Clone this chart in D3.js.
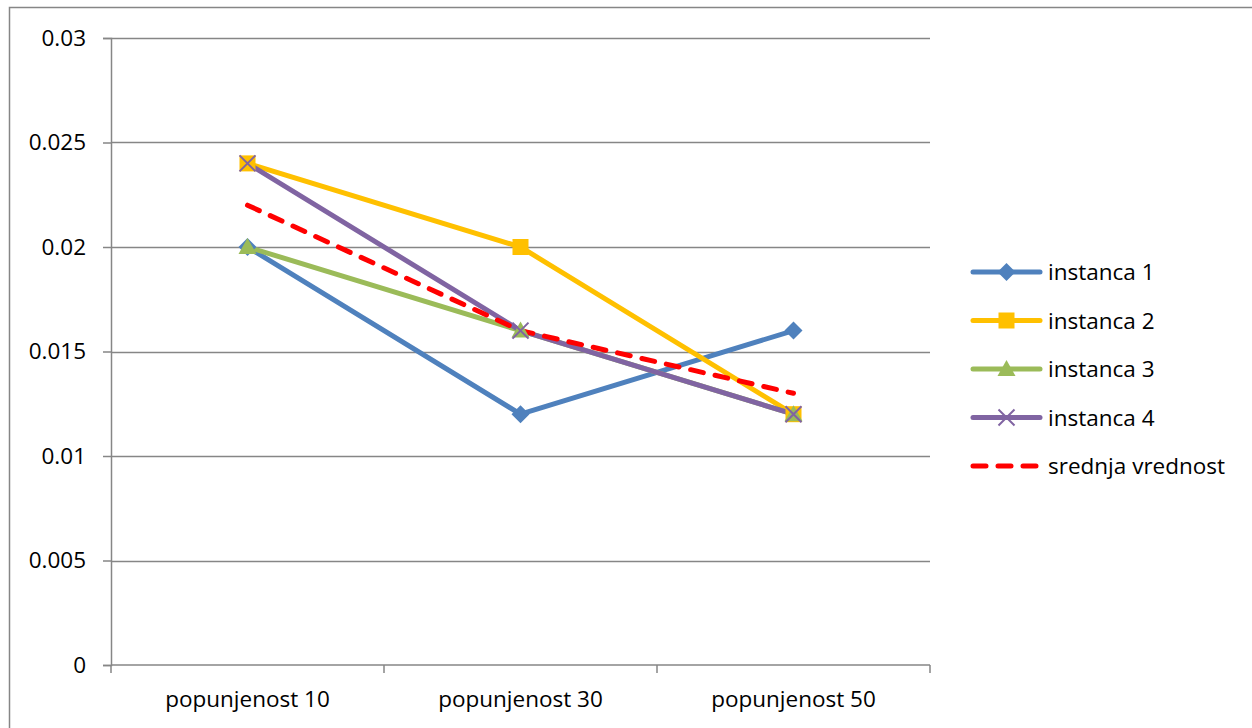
<!DOCTYPE html>
<html>
<head>
<meta charset="utf-8">
<script src="https://cdn.jsdelivr.net/npm/d3@7"></script>
<style>
  html, body { margin: 0; padding: 0; background: #fff; }
  svg { display: block; font-family: "Open Sans", "Noto Sans", sans-serif; }
</style>
</head>
<body>
<svg id="chart" width="1252" height="728"></svg>
<script>
// Categories and series values
const categories = ["popunjenost 10", "popunjenost 30", "popunjenost 50"];
const instanca1 = [0.020, 0.012, 0.016];
const instanca2 = [0.024, 0.020, 0.012];
const instanca3 = [0.020, 0.016, 0.012];
const instanca4 = [0.024, 0.016, 0.012];
const srednjaVrednost = [0.022, 0.016, 0.013];
const yTicks = [0, 0.005, 0.01, 0.015, 0.02, 0.025, 0.03];
const yTickLabels = ["0", "0.005", "0.01", "0.015", "0.02", "0.025", "0.03"];

const series = [
  { name: "instanca 1", values: instanca1, color: "#4F81BD", marker: "diamond" },
  { name: "instanca 2", values: instanca2, color: "#FFC000", marker: "square" },
  { name: "instanca 3", values: instanca3, color: "#9BBB59", marker: "triangle" },
  { name: "instanca 4", values: instanca4, color: "#8064A2", marker: "cross" },
  { name: "srednja vrednost", values: srednjaVrednost, color: "#FF0000", marker: "none", dashed: true }
];

const svg = d3.select("#chart");
const plot = { left: 111, right: 930, top: 38, bottom: 665 };
const axisColor = "#868686";
const fontSize = 22.5;

// Outer chart frame (extends beyond the visible window on right/bottom)
svg.append("rect")
  .attr("x", 9.5).attr("y", 7.5)
  .attr("width", 1300).attr("height", 800)
  .attr("fill", "none").attr("stroke", axisColor).attr("stroke-width", 1.5);

const x = d3.scaleBand().domain(categories).range([plot.left, plot.right]).paddingInner(0).paddingOuter(0);
const y = d3.scaleLinear().domain([0, 0.03]).range([plot.bottom, plot.top]);
const xc = c => x(c) + x.bandwidth() / 2;

// Horizontal gridlines
svg.append("g").selectAll("line")
  .data(yTicks.filter(t => t > 0))
  .join("line")
  .attr("x1", plot.left).attr("x2", plot.right)
  .attr("y1", d => Math.round(y(d)) + 0.5).attr("y2", d => Math.round(y(d)) + 0.5)
  .attr("stroke", axisColor).attr("stroke-width", 1.5);

// Y axis
const yAxis = d3.axisLeft(y).tickValues(yTicks)
  .tickFormat((d, i) => yTickLabels[i]).tickSize(8).tickPadding(17);
const gy = svg.append("g").attr("transform", `translate(${plot.left},0)`).call(yAxis);
gy.select(".domain").attr("stroke", axisColor).attr("stroke-width", 1.5);
gy.selectAll(".tick line").attr("stroke", axisColor).attr("stroke-width", 1.5);
gy.selectAll(".tick text").attr("font-size", fontSize).attr("fill", "#000")
  .attr("font-family", "'Open Sans', sans-serif");

// X axis with tick marks at category boundaries
const gx = svg.append("g").attr("transform", `translate(0,${plot.bottom})`);
gx.append("line").attr("x1", plot.left).attr("x2", plot.right)
  .attr("stroke", axisColor).attr("stroke-width", 1.5);
const bounds = categories.map(c => x(c)).concat([plot.right]);
gx.selectAll("line.tk").data(bounds).join("line").attr("class", "tk")
  .attr("x1", d => d).attr("x2", d => d).attr("y1", 0).attr("y2", 8)
  .attr("stroke", axisColor).attr("stroke-width", 1.5);
gx.selectAll("text").data(categories).join("text")
  .attr("x", d => xc(d)).attr("y", 42)
  .attr("text-anchor", "middle").attr("font-size", fontSize).attr("fill", "#000")
  .text(d => d);

// Lines
const line = d3.line().x((d, i) => xc(categories[i])).y(d => y(d));
series.forEach(s => {
  svg.append("path").datum(s.values)
    .attr("d", line)
    .attr("fill", "none")
    .attr("stroke", s.color)
    .attr("stroke-width", 5)
    .attr("stroke-linejoin", "round")
    .attr("stroke-linecap", "round")
    .attr("stroke-dasharray", s.dashed ? "13,12" : null);
});

// Markers
function drawMarker(g, type, cx, cy, color, size) {
  const h = size / 2;
  if (type === "diamond") {
    g.append("path").attr("d", `M${cx},${cy - h}L${cx + h},${cy}L${cx},${cy + h}L${cx - h},${cy}Z`)
      .attr("fill", color);
  } else if (type === "square") {
    g.append("rect").attr("x", cx - h + 1).attr("y", cy - h + 1)
      .attr("width", size - 2).attr("height", size - 2).attr("fill", color);
  } else if (type === "triangle") {
    g.append("path").attr("d", `M${cx},${cy - h}L${cx + h},${cy + h - 2}L${cx - h},${cy + h - 2}Z`)
      .attr("fill", color);
  } else if (type === "cross") {
    const k = h - 1;
    g.append("path").attr("d", `M${cx - k},${cy - k}L${cx + k},${cy + k}M${cx + k},${cy - k}L${cx - k},${cy + k}`)
      .attr("stroke", color).attr("stroke-width", 2).attr("fill", "none");
  }
}
const markersG = svg.append("g");
series.forEach(s => {
  if (s.marker === "none") return;
  s.values.forEach((v, i) => drawMarker(markersG, s.marker, xc(categories[i]), y(v), s.color, 18));
});

// Legend
const legend = svg.append("g");
const legendTop = 272, legendStep = 48.5;
series.forEach((s, i) => {
  const ly = legendTop + i * legendStep;
  legend.append("line")
    .attr("x1", 973).attr("x2", 1040).attr("y1", ly).attr("y2", ly)
    .attr("stroke", s.color).attr("stroke-width", 5)
    .attr("stroke-linecap", "round")
    .attr("stroke-dasharray", s.dashed ? "13,12" : null);
  if (s.marker !== "none") drawMarker(legend, s.marker, 1006.5, ly, s.color, 18);
  legend.append("text").attr("x", 1048).attr("y", ly + 8)
    .attr("font-size", fontSize).attr("fill", "#000").text(s.name);
});
</script>
</body>
</html>
